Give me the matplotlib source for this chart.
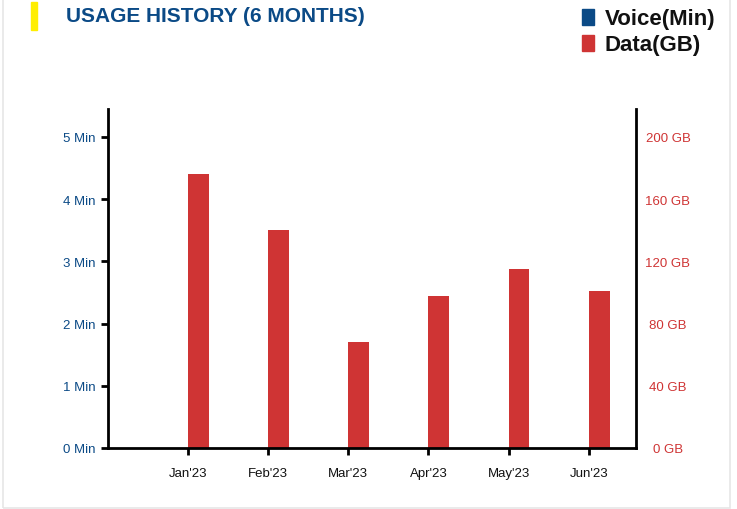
import matplotlib.pyplot as plt
import numpy as np
from matplotlib.patches import Rectangle

months = ["Jan'23", "Feb'23", "Mar'23", "Apr'23", "May'23", "Jun'23"]
voice_min = [0, 0, 0, 0, 0, 0]
data_gb = [176, 140, 68, 98, 115, 101]
min_ticks = [0, 1, 2, 3, 4, 5]
gb_ticks = [0, 40, 80, 120, 160, 200]

blue = '#0b4a86'
red = '#cf3434'
sans = ['Liberation Sans', 'DejaVu Sans']

fig = plt.figure(figsize=(7.37, 5.10), dpi=100)
W, H = 737, 510

# card border
fig.patches.append(Rectangle((3 / W, 1 / H), 727 / W, 1.2, transform=fig.transFigure,
                             fill=False, edgecolor='#e6e6e6', linewidth=1.2))

ax = fig.add_axes([108 / W, (H - 449) / H, (636 - 108) / W, (449 - 110) / H])
x = np.arange(len(months))
w = 0.26
ax.bar(x - w, voice_min, width=w, align='edge', color=blue)
ax.bar(x, data_gb, width=w, align='edge', color=red)

ax.set_xlim(-1, 5.59)
ax.set_ylim(0, 218)
ax.set_xticks(x)
ax.set_xticklabels(months, fontsize=9.5, color='#111111', family=sans)
ax.tick_params(axis='x', length=5, width=2, pad=9)

ax.set_yticks([t * 40 for t in min_ticks])
ax.set_yticklabels([f'{t} Min' for t in min_ticks], fontsize=9.5, color=blue, family=sans)
ax.tick_params(axis='y', length=5, width=2, pad=4, direction='out')
ax.yaxis.get_major_ticks()[0].tick1line.set_visible(False)

ax2 = ax.twinx()
ax2.set_ylim(0, 218)
ax2.set_yticks(gb_ticks)
ax2.set_yticklabels([f'{t} GB' for t in gb_ticks], fontsize=9.5, color=red, family=sans,
                    ha='center')
ax2.tick_params(axis='y', length=0, pad=23)

for a in (ax, ax2):
    a.spines['top'].set_visible(False)
    a.spines['left'].set_linewidth(2)
    a.spines['right'].set_linewidth(2)
    a.spines['bottom'].set_linewidth(2)
ax.spines['right'].set_visible(False)
ax2.spines['left'].set_visible(False)
ax2.spines['bottom'].set_visible(False)

# title with yellow marker
fig.patches.append(Rectangle((31 / W, (H - 31) / H), 6 / W, 28 / H, transform=fig.transFigure,
                             color='#ffee00'))
fig.text(66 / W, (H - 16) / H, 'USAGE HISTORY (6 MONTHS)', fontsize=15, fontweight='bold',
         color=blue, va='center', ha='left', family=sans)

# legend
fig.patches.append(Rectangle((582 / W, (H - 26) / H), 12 / W, 16 / H, transform=fig.transFigure,
                             color=blue))
fig.patches.append(Rectangle((582 / W, (H - 52) / H), 12 / W, 16 / H, transform=fig.transFigure,
                             color=red))
fig.text(605 / W, (H - 19) / H, 'Voice(Min)', fontsize=16, fontweight='bold', color='#111111',
         va='center', ha='left', family=sans)
fig.text(605 / W, (H - 45) / H, 'Data(GB)', fontsize=16, fontweight='bold', color='#111111',
         va='center', ha='left', family=sans)

fig.savefig('out.png', dpi=100)
